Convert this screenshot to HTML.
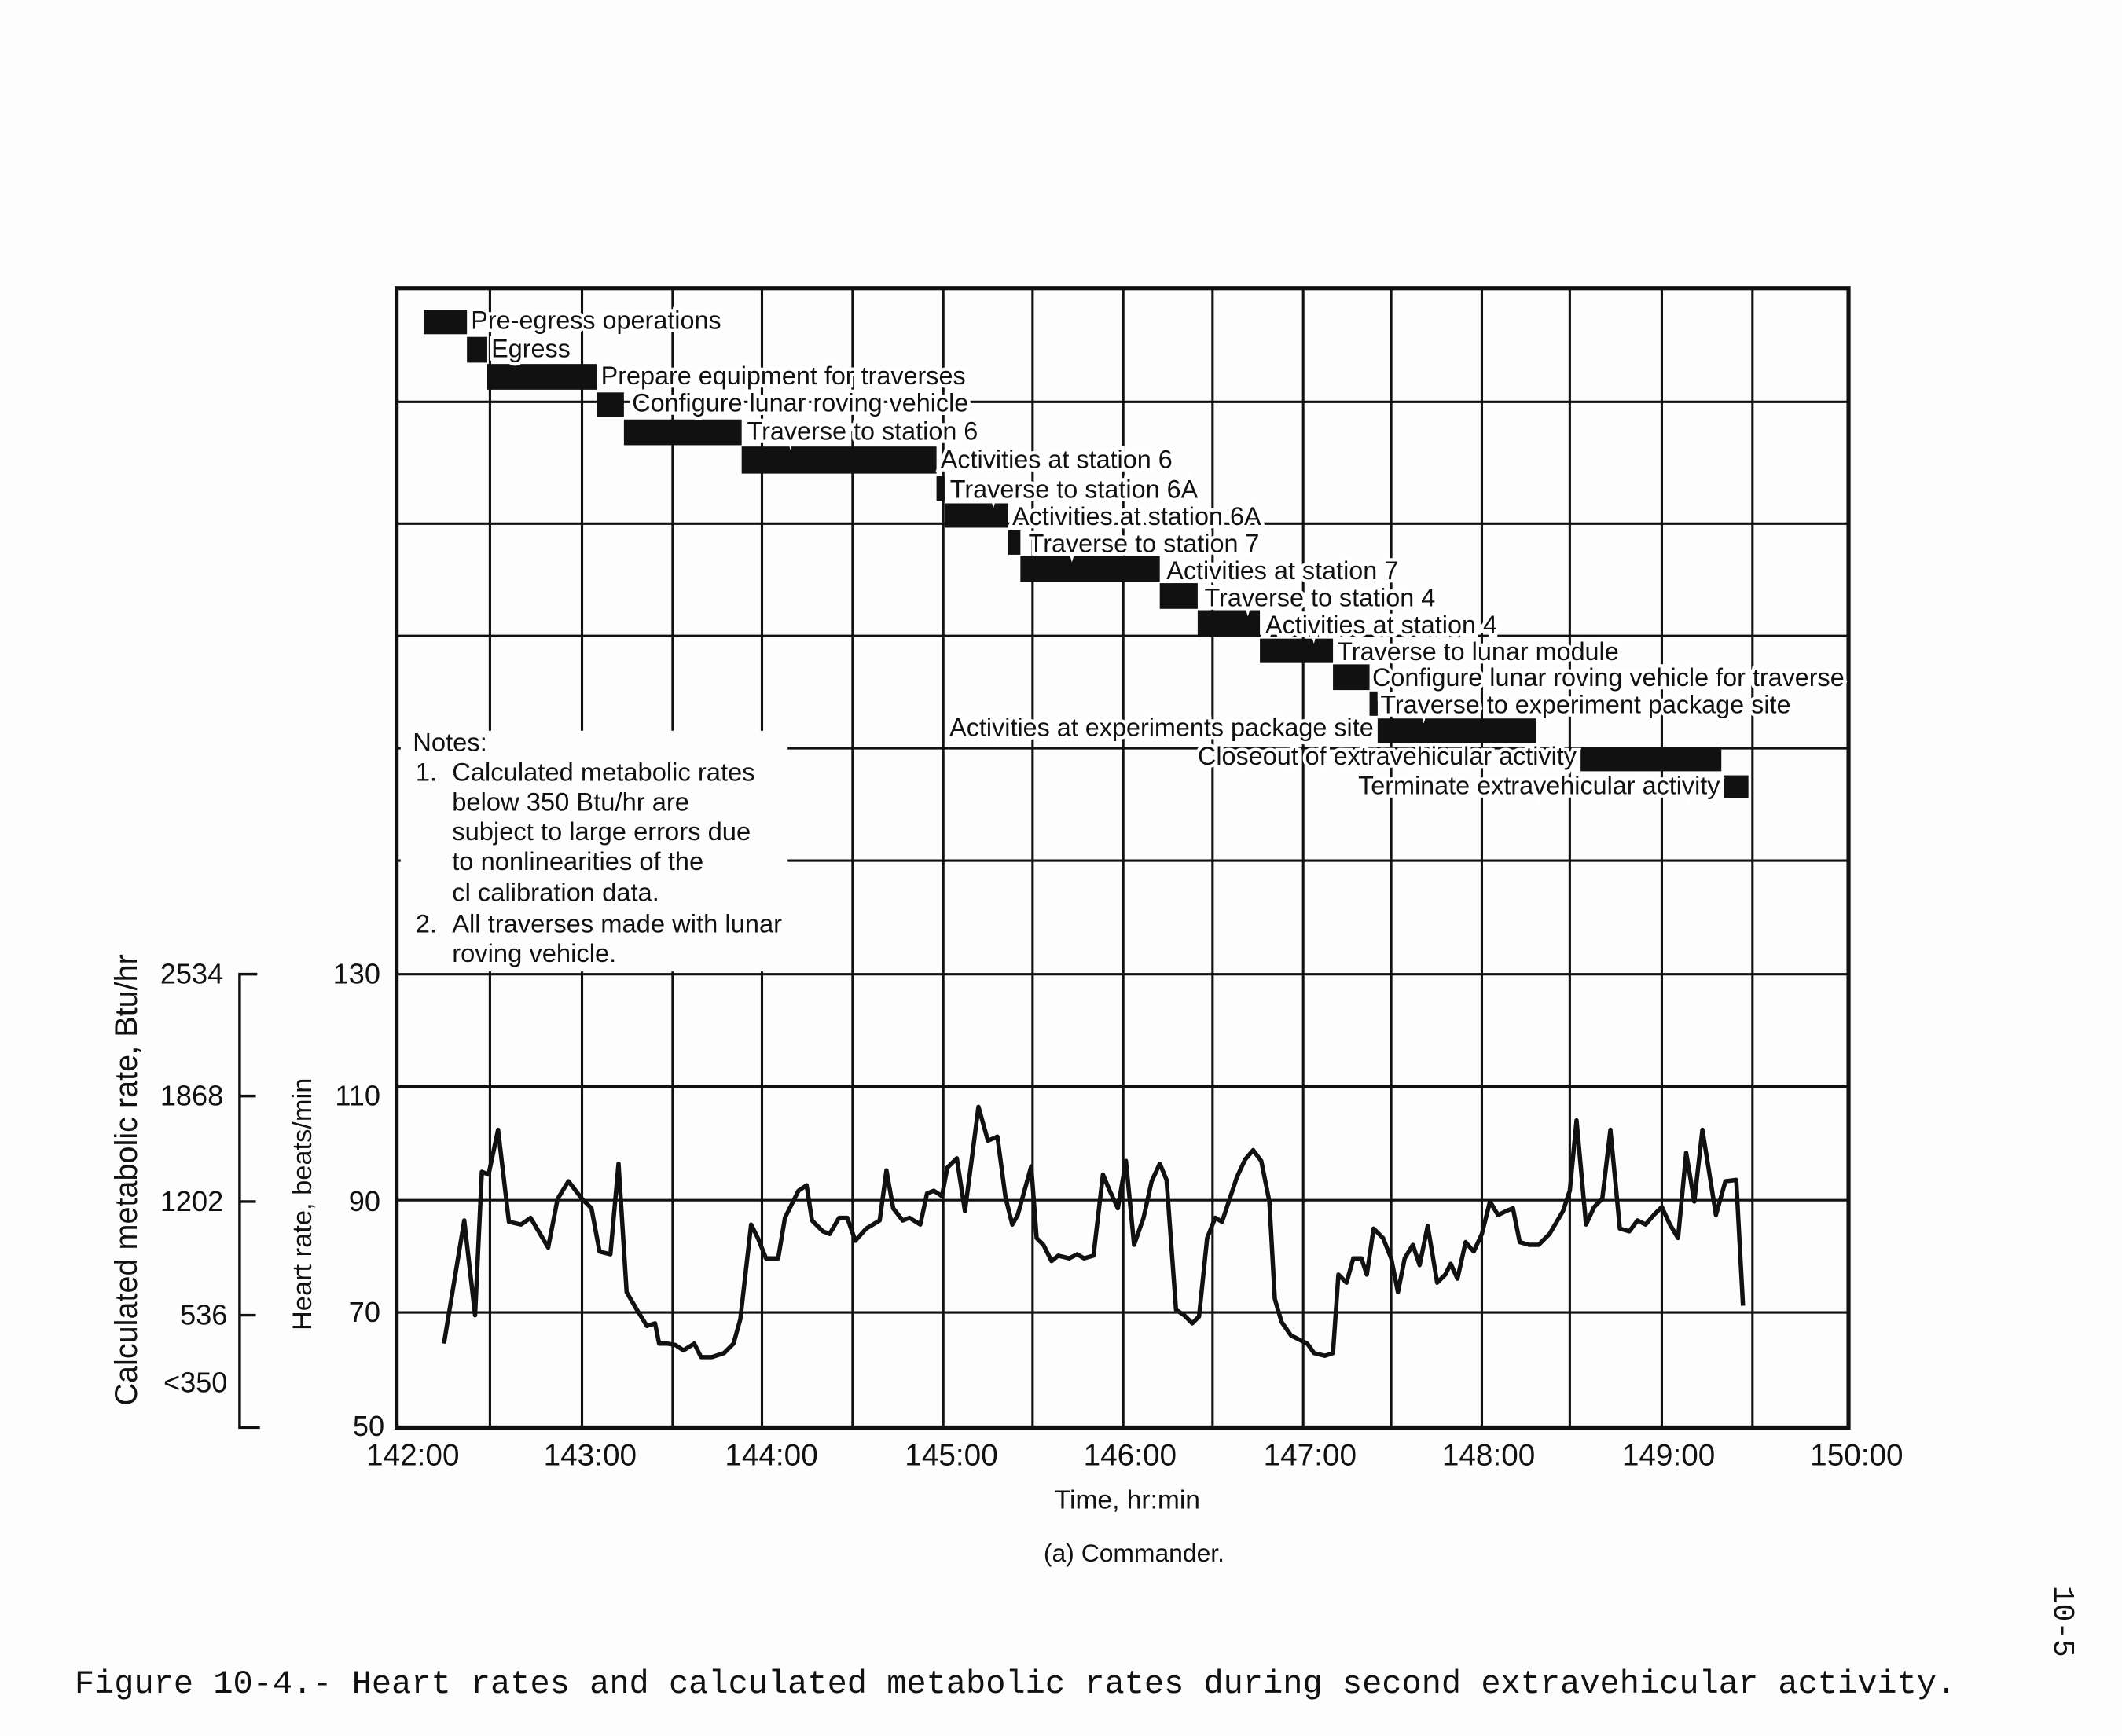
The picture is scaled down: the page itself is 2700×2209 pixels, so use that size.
<!DOCTYPE html>
<html><head><meta charset="utf-8"><style>
html,body{margin:0;padding:0;background:#fff}
svg{display:block}
text{font-family:"Liberation Sans",sans-serif;fill:#111}
.g text.l{paint-order:stroke;stroke:#fff;stroke-width:5px}
</style></head><body>
<svg width="2700" height="2209" viewBox="0 0 1568 1283" xmlns="http://www.w3.org/2000/svg">
<rect width="1568" height="1283" fill="#fdfdfd"/>
<g stroke="#111" stroke-width="1.8">
<path d="M362 213V1055M430 213V1055M497 213V1055M563 213V1055M630 213V1055M697 213V1055M763 213V1055M830 213V1055M896 213V1055M963 213V1055M1028 213V1055M1095 213V1055M1160 213V1055M1228 213V1055M1295 213V1055"/>
<path d="M293 297H1366M293 387H1366M293 470H1366M293 553H1366M293 636H1366M293 720H1366M293 803H1366M293 887H1366M293 970H1366"/>
</g>
<rect x="296" y="540" width="286" height="178" fill="#fdfdfd"/>
<rect x="293" y="213" width="1073" height="842" fill="none" stroke="#111" stroke-width="3"/>
<g fill="#111">
<rect x="313" y="229" width="32" height="18"/>
<rect x="345" y="249" width="15" height="19"/>
<rect x="360" y="269" width="81" height="19"/>
<rect x="441" y="290" width="20" height="18"/>
<rect x="461" y="310" width="87" height="19"/>
<rect x="548" y="330" width="144" height="20"/>
<rect x="692" y="352" width="6" height="18"/>
<rect x="698" y="372" width="47" height="18"/>
<rect x="745" y="392" width="9" height="18"/>
<rect x="754" y="411" width="103" height="19"/>
<rect x="857" y="431" width="28" height="19"/>
<rect x="885" y="451" width="46" height="20"/>
<rect x="931" y="472" width="54" height="18"/>
<rect x="985" y="491" width="27" height="19"/>
<rect x="1012" y="511" width="6" height="18"/>
<rect x="1018" y="531" width="117" height="18"/>
<rect x="1168" y="552" width="104" height="18"/>
<rect x="1274" y="573" width="18" height="17"/>
</g>
<g class="g" font-size="18.8">
<text class="l" x="348" y="243">Pre-egress operations</text>
<text class="l" x="363" y="264">Egress</text>
<text class="l" x="444" y="284">Prepare equipment for traverses</text>
<text class="l" x="467" y="304">Configure lunar roving vehicle</text>
<text class="l" x="552" y="325">Traverse to station 6</text>
<text class="l" x="695" y="346">Activities at station 6</text>
<text class="l" x="702" y="368">Traverse to station 6A</text>
<text class="l" x="748" y="388">Activities at station 6A</text>
<text class="l" x="760" y="408">Traverse to station 7</text>
<text class="l" x="862" y="428">Activities at station 7</text>
<text class="l" x="890" y="448">Traverse to station 4</text>
<text class="l" x="935" y="468">Activities at station 4</text>
<text class="l" x="988" y="488">Traverse to lunar module</text>
<text class="l" x="1014" y="507">Configure lunar roving vehicle for traverse</text>
<text class="l" x="1020" y="527">Traverse to experiment package site</text>
<text class="l" x="1015" y="544" text-anchor="end">Activities at experiments package site</text>
<text class="l" x="1165" y="565" text-anchor="end">Closeout of extravehicular activity</text>
<text class="l" x="1271" y="587" text-anchor="end">Terminate extravehicular activity</text>
</g>
<g font-size="19">
<text x="305" y="555">Notes:</text>
<text x="307" y="577">1.</text><text x="334" y="577">Calculated metabolic rates</text>
<text x="334" y="599">below 350 Btu/hr are</text>
<text x="334" y="621">subject to large errors due</text>
<text x="334" y="643">to nonlinearities of the</text>
<text x="334" y="666">cl calibration data.</text>
<text x="307" y="689">2.</text><text x="334" y="689">All traverses made with lunar</text>
<text x="334" y="711">roving vehicle.</text>
</g>
<polyline fill="none" stroke="#111" stroke-width="3.2" stroke-linejoin="round" points="328,993 343,902 351,972 356,866 361,868 368,835 376,903 385,905 392,900 405,922 412,886 420,873 430,886 437,893 443,925 451,927 457,860 463,955 470,967 478,980 484,978 487,993 493,993 499,994 505,998 513,993 518,1003 526,1003 535,1000 542,993 547,975 551,940 555,905 560,915 566,930 575,930 580,900 590,880 596,876 600,902 608,910 613,912 620,900 626,900 632,917 640,908 650,902 655,865 660,893 667,902 672,900 680,905 685,882 690,880 696,884 700,863 707,856 713,895 718,857 723,818 730,843 737,840 743,885 748,905 752,898 757,880 762,862 766,915 771,920 777,932 782,928 790,930 796,927 801,930 808,928 815,868 820,880 826,893 832,858 838,920 845,900 851,873 857,860 862,872 869,968 875,972 881,978 886,973 892,915 898,900 903,903 908,888 914,870 920,857 926,850 932,858 938,888 942,960 947,977 954,987 960,990 966,993 971,1000 979,1002 985,1000 989,942 995,948 1000,930 1006,930 1010,942 1015,908 1022,915 1028,930 1033,955 1038,930 1044,920 1049,935 1055,906 1062,948 1068,942 1072,934 1077,945 1083,918 1089,925 1095,912 1101,888 1107,898 1113,895 1118,893 1123,918 1130,920 1137,920 1145,912 1155,895 1160,880 1165,828 1172,905 1178,892 1184,886 1190,835 1197,908 1204,910 1210,902 1216,905 1222,898 1228,892 1234,905 1240,915 1246,852 1252,888 1258,835 1262,860 1268,898 1275,873 1283,872 1288,965"/>
<g stroke="#111" stroke-width="2" fill="none"><path d="M190 720H177V1055H192M177 810H189M177 888H189M177 972H189"/></g>
<g font-size="21" text-anchor="end">
<text x="165" y="727">2534</text><text x="165" y="817">1868</text><text x="165" y="895">1202</text><text x="168" y="979">536</text><text x="168" y="1029">&lt;350</text>
<text x="281" y="727">130</text><text x="281" y="817">110</text><text x="281" y="895">90</text><text x="281" y="977">70</text><text x="284" y="1061">50</text>
</g>
<text font-size="23" transform="translate(101,872) rotate(-90)" text-anchor="middle">Calculated metabolic rate, Btu/hr</text>
<text font-size="20" transform="translate(230,890) rotate(-90)" text-anchor="middle">Heart rate, beats/min</text>
<g font-size="22.5" text-anchor="middle">
<text x="305" y="1083">142:00</text><text x="436" y="1083">143:00</text><text x="570" y="1083">144:00</text><text x="703" y="1083">145:00</text><text x="835" y="1083">146:00</text><text x="968" y="1083">147:00</text><text x="1100" y="1083">148:00</text><text x="1233" y="1083">149:00</text><text x="1372" y="1083">150:00</text>
</g>
<text x="833" y="1115" font-size="19.5" text-anchor="middle">Time, hr:min</text>
<text x="838" y="1154" font-size="18.5" text-anchor="middle">(a) Commander.</text>
<text x="55" y="1251" font-size="24.4" style="font-family:'Liberation Mono',monospace">Figure 10-4.- Heart rates and calculated metabolic rates during second extravehicular activity.</text>
<text font-size="22" transform="translate(1518,1172) rotate(90)" style="font-family:'Liberation Mono',monospace">10-5</text>
</svg>
</body></html>
